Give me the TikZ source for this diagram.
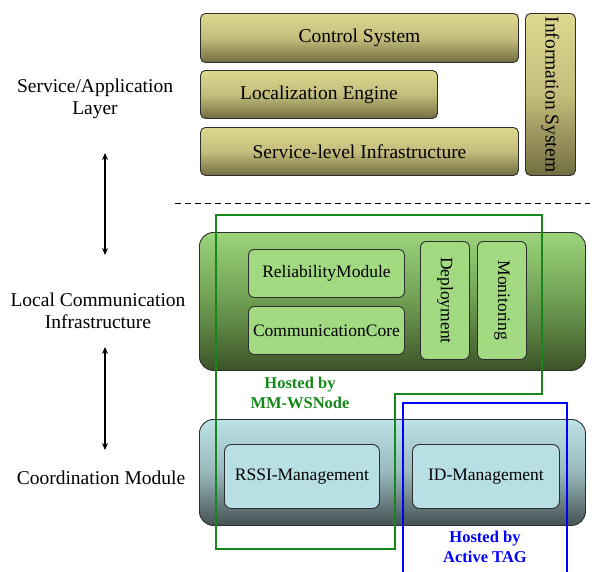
\documentclass[tikz,border=0pt]{standalone}
\usepackage{fontspec}
\setmainfont{Liberation Serif}
\usetikzlibrary{arrows.meta}
\definecolor{olivetop}{HTML}{DED890}
\definecolor{olivemid}{HTML}{C4BD7C}
\definecolor{olivebot}{HTML}{726E42}
\definecolor{greentop}{HTML}{9CD47C}
\definecolor{greenmid}{HTML}{6E9E52}
\definecolor{greenbot}{HTML}{3C5428}
\definecolor{greenin}{HTML}{A2DA82}
\definecolor{tealtop}{HTML}{BCE3E7}
\definecolor{tealmid}{HTML}{98B8BC}
\definecolor{tealbot}{HTML}{445254}
\definecolor{tealin}{HTML}{B8E0E4}
\definecolor{hostgreen}{HTML}{16871A}
\definecolor{edge}{HTML}{2E2E2E}
\tikzset{
  base/.style={draw=edge, line width=0.9pt, inner sep=0pt, anchor=north west, align=center},
  olivebox/.style={base, rounded corners=5pt, top color=olivetop, bottom color=olivebot, middle color=olivemid, font=\fontsize{19.5}{22}\selectfont},
  greenbox/.style={base, rounded corners=14pt, top color=greentop, bottom color=greenbot, middle color=greenmid},
  greeninner/.style={base, rounded corners=6pt, fill=greenin, font=\fontsize{17.5}{20}\selectfont},
  tealbox/.style={base, rounded corners=14pt, top color=tealtop, bottom color=tealbot, middle color=tealmid},
  tealinner/.style={base, rounded corners=7pt, fill=tealin, font=\fontsize{17.5}{20}\selectfont},
  sidelabel/.style={align=center, inner sep=0pt, font=\fontsize{19.5}{22.5}\selectfont},
  hostlabel/.style={align=center, inner sep=0pt, font=\bfseries\fontsize{16.5}{20}\selectfont},
  dblarrow/.style={{Stealth[length=7pt,width=6pt]}-{Stealth[length=7pt,width=6pt]}, line width=1.1pt}
}
\begin{document}
\begin{tikzpicture}[x=1pt,y=-1pt]
\useasboundingbox (0,0) rectangle (592,571);
% service layer
\node[olivebox, minimum width=318pt, minimum height=49pt] (ctrl) at (200,13) {Control System};
\node[olivebox, minimum width=237pt, minimum height=48pt] (loc) at (200,70) {Localization Engine};
\node[olivebox, minimum width=318pt, minimum height=48pt] (sli) at (200,127) {Service-level Infrastructure};
\node[olivebox, minimum width=50pt, minimum height=162pt] (info) at (525,13) {};
\node[rotate=-90, font=\fontsize{19.5}{22}\selectfont, inner sep=0pt] (infot) at (info.center) {Information System};
% dashed separator
\coordinate (d1) at (175,203);
\coordinate (d2) at (590,203);
\draw[dashed, dash pattern=on 6pt off 4pt, line width=0.9pt] (d1) -- (d2);
% local communication
\node[greenbox, minimum width=386pt, minimum height=138pt] (lci) at (199,232) {};
\node[greeninner, minimum width=156pt, minimum height=48pt] (rel) at (248,249) {ReliabilityModule};
\node[greeninner, minimum width=156pt, minimum height=48pt] (core) at (248,306) {CommunicationCore};
\node[greeninner, minimum width=49pt, minimum height=118pt] (dep) at (420,241) {};
\node[rotate=-90, font=\fontsize{17.5}{20}\selectfont, inner sep=0pt] (dept) at (dep.center) {Deployment};
\node[greeninner, minimum width=49pt, minimum height=118pt] (mon) at (477,241) {};
\node[rotate=-90, font=\fontsize{17.5}{20}\selectfont, inner sep=0pt] (mont) at (mon.center) {Monitoring};
% coordination
\node[tealbox, minimum width=386pt, minimum height=106pt] (coord) at (199,419) {};
\node[tealinner, minimum width=155pt, minimum height=64pt] (rssi) at (224,444) {RSSI-Management};
\node[tealinner, minimum width=147pt, minimum height=64pt] (idm) at (412,444) {ID-Management};
% hosted outlines
\draw[hostgreen, line width=2.2pt] (216,215) -- (542,215) -- (542,394) -- (395,394) -- (395,549) -- (216,549) -- cycle;
\draw[blue, line width=2.6pt] (403,575) -- (403,403) -- (567,403) -- (567,575);
\node[hostlabel, text=hostgreen] (hmm) at (300,393) {Hosted by\\MM-WSNode};
\node[hostlabel, text=blue] (hat) at (485,547) {Hosted by\\Active TAG};
% side labels
\node[sidelabel] (sal) at (95,99) {Service/Application\\Layer};
\node[sidelabel] (lcl) at (98,311) {Local Communication\\Infrastructure};
\node[sidelabel] (cml) at (101,478) {Coordination Module};
\coordinate (a1) at (105,153);
\coordinate (a2) at (105,255);
\coordinate (a3) at (105,347);
\coordinate (a4) at (105,450);
\draw[dblarrow] (a1) -- (a2);
\draw[dblarrow] (a3) -- (a4);
\end{tikzpicture}
\end{document}
